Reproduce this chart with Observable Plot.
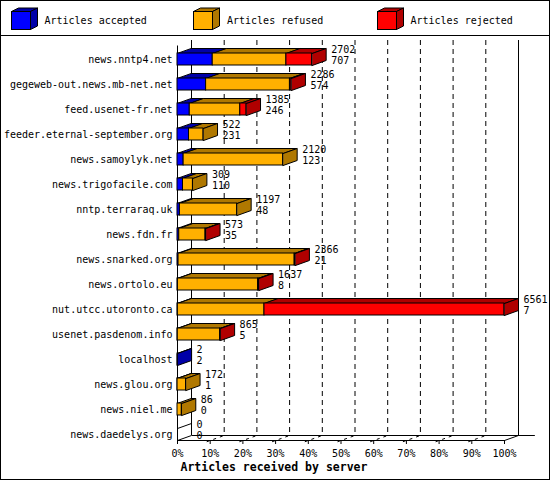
<!DOCTYPE html>
<html><head><meta charset="utf-8">
<script src="https://cdn.jsdelivr.net/npm/d3@7"></script>
<script src="https://cdn.jsdelivr.net/npm/@observablehq/plot@0.6"></script>
<style>
body{margin:0;background:#fff;}
#frame{width:550px;height:480px;box-sizing:border-box;border:1px solid #000;font-family:"DejaVu Sans Mono",monospace;font-size:10px;position:relative;overflow:hidden;background:#fff}
#legend{height:34px;border-bottom:1px solid #000;position:relative}
.item{position:absolute;top:0;height:34px;width:170px}
.item svg{position:absolute;left:0;top:0}
.item span{position:absolute;top:14px;left:34px;line-height:12px;white-space:nowrap}
#chart svg{display:block}
</style></head><body>
<div id="frame"><div id="legend"></div><div id="chart"></div></div>
<script>
// ---- data ----
const hosts = ["news.nntp4.net","gegeweb-out.news.mb-net.net","feed.usenet-fr.net","feeder.eternal-september.org","news.samoylyk.net","news.trigofacile.com","nntp.terraraq.uk","news.fdn.fr","news.snarked.org","news.ortolo.eu","nut.utcc.utoronto.ca","usenet.pasdenom.info","localhost","news.glou.org","news.niel.me","news.daedelys.org"];
const totals   = [2702, 2286, 1385, 522, 2120, 309, 1197, 573, 2366, 1637, 6561, 865, 2, 172, 86, 0];
const accepted = [707, 574, 246, 231, 123, 110, 48, 35, 21, 8, 7, 5, 2, 1, 0, 0];
const refused  = [1478, 1682, 1014, 291, 1997, 199, 1149, 528, 2330, 1609, 1738, 850, 0, 171, 86, 0];
const rejected = [517, 30, 125, 0, 0, 0, 0, 10, 15, 20, 4816, 10, 0, 0, 0, 0];
const seriesNames = ["Articles accepted", "Articles refused", "Articles rejected"];
const frontColors = ["#0000ff", "#ffb000", "#ff0000"];
const darkColors  = ["#0000a8", "#b07800", "#b00000"];
const tickPct = [0,10,20,30,40,50,60,70,80,90,100];
const xTitle = "Articles received by server";

// ---- legend ----
const legend = document.getElementById("legend");
const legendLeft = [9.5, 192, 375.5];
seriesNames.forEach((name, k) => {
  const div = document.createElement("div");
  div.className = "item";
  div.style.left = legendLeft[k] + "px";
  div.innerHTML = `<svg width="32" height="34">
    <polygon points="0.5,10.5 19.5,10.5 26.5,7 7.5,7" fill="${darkColors[k]}" stroke="#000"/>
    <polygon points="19.5,10.5 26.5,7 26.5,25 19.5,28.5" fill="${darkColors[k]}" stroke="#000"/>
    <rect x="0.5" y="10.5" width="19" height="18" fill="${frontColors[k]}" stroke="#000"/>
  </svg><span>${name}</span>`;
  legend.appendChild(div);
});

// ---- geometry (3D depth in data units) ----
const maxTotal = d3.max(totals);
const X0 = 176, X1 = 503, Y0 = 23, Y1 = 398;
const pxX = (X1 - X0) / 100, pxY = (Y1 - Y0) / (hosts.length - 1);
const DX = 14 / pxX, DY = -5 / pxY, H = 6 / pxY;
const pct = v => v / maxTotal * 100;
const n = hosts.length;
const frontBase = (n - 1) + H, backBase = frontBase + DY;
const backTop = (4 - Y0) / pxY, frontTop = backTop - DY;

const fronts = [], tops = [], sides = [], zeroRows = [];
hosts.forEach((h, i) => {
  const vals = [accepted[i], refused[i], rejected[i]];
  let cum = 0, last = -1, lastX = 0;
  vals.forEach((v, k) => {
    if (v <= 0) return;
    const x1 = pct(cum), x2 = pct(cum + v);
    fronts.push({x1, x2, y1: i - H, y2: i + H, fill: frontColors[k]});
    const id = `t${i}-${k}`;
    [[x1, i - H], [x2, i - H], [x2 + DX, i - H + DY], [x1 + DX, i - H + DY]]
      .forEach(([x, y]) => tops.push({id, x, y, fill: darkColors[k]}));
    cum += v; last = k; lastX = x2;
  });
  if (last >= 0) {
    const id = `s${i}`;
    [[lastX, i - H], [lastX + DX, i - H + DY], [lastX + DX, i + H + DY], [lastX, i + H]]
      .forEach(([x, y]) => sides.push({id, x, y, fill: darkColors[last]}));
  } else {
    zeroRows.push(i);
  }
});

const gridPct = tickPct.slice(1, -1);
const rows = hosts.map((h, i) => i);

const chart = Plot.plot({
  width: 548,
  height: 443,
  x: {domain: [0, 100], range: [X0, X1], axis: null},
  y: {domain: [0, n - 1], range: [Y0, Y1], axis: null},
  color: {type: "identity"},
  style: {fontFamily: "'DejaVu Sans Mono', monospace", fontSize: "10px", background: "#fff", overflow: "visible"},
  marks: [
    // back wall grid
    Plot.ruleX(gridPct, {x: d => d + DX, y1: backTop, y2: backBase, stroke: "#000", strokeDasharray: "5,4"}),
    Plot.ruleX([0, 100], {x: d => d + DX, y1: backTop, y2: backBase, stroke: "#000"}),
    // floor
    Plot.link([0], {x1: 0, y1: frontBase, x2: 100, y2: frontBase, stroke: "#000"}),
    Plot.link([0], {x1: DX, y1: backBase, x2: 105 + DX, y2: backBase, stroke: "#000"}),
    Plot.link([0, 100], {x1: d => d, y1: frontBase, x2: d => d + DX, y2: backBase, stroke: "#000"}),
    Plot.link(gridPct, {x1: d => d - 0.25 * DX, y1: frontBase - 0.25 * DY, x2: d => d + DX, y2: backBase, stroke: "#000", strokeDasharray: "3,4"}),
    Plot.ruleX(tickPct, {x: d => d, y1: frontBase, y2: frontBase + 4 / pxY, stroke: "#000"}),
    // front axis
    Plot.link([0], {x1: 0, y1: frontTop, x2: 0, y2: frontBase, stroke: "#000"}),
    // zero rows
    Plot.link(zeroRows, {x1: 0, y1: d => d - H, x2: DX, y2: d => d - H + DY, stroke: "#000"}),
    // bars
    Plot.line(tops, {x: "x", y: "y", z: "id", fill: "fill", stroke: "#000", strokeWidth: 1, curve: "linear-closed"}),
    Plot.rect(fronts, {x1: "x1", x2: "x2", y1: "y1", y2: "y2", fill: "fill", stroke: "#000", strokeWidth: 1}),
    Plot.line(sides, {x: "x", y: "y", z: "id", fill: "fill", stroke: "#000", strokeWidth: 1, curve: "linear-closed"}),
    // category labels
    Plot.text(rows, {x: 0, y: d => d, text: d => hosts[d], textAnchor: "end", dx: -5, fill: "#000"}),
    // value labels
    Plot.text(rows, {x: d => pct(totals[d]) + DX, y: d => d, text: d => String(totals[d]), textAnchor: "start", dx: 5, dy: -10, fill: "#000"}),
    Plot.text(rows, {x: d => pct(totals[d]) + DX, y: d => d, text: d => String(accepted[d]), textAnchor: "start", dx: 5, dy: 1, fill: "#000"}),
    // tick labels
    Plot.text(tickPct, {x: d => d, y: frontBase, text: d => d + "%", dy: 13, fill: "#000"}),
    // axis title
    Plot.text([xTitle], {x: 0, y: frontBase, text: d => d, textAnchor: "start", dx: 3, dy: 27, fill: "#000", fontWeight: "bold", fontSize: 11.5})
  ]
});
document.getElementById("chart").appendChild(chart);
</script>
</body></html>
